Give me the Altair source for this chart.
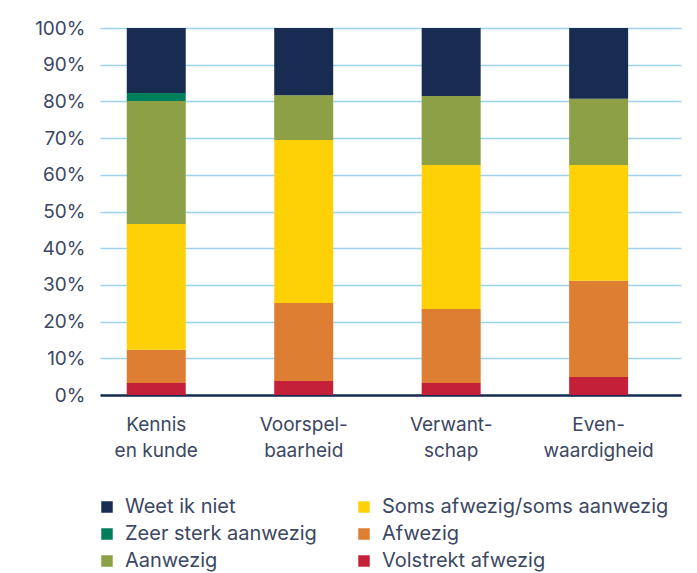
import altair as alt
import pandas as pd

categories = ["Kennis|en kunde", "Voorspel-|baarheid", "Verwant-|schap", "Even-|waardigheid"]
series = ["Volstrekt afwezig", "Afwezig", "Soms afwezig/soms aanwezig", "Aanwezig",
          "Zeer sterk aanwezig", "Weet ik niet"]
colors = ["#c5203a", "#de7e33", "#fdd105", "#8da046", "#00805a", "#182c51"]

volstrekt = [3.3, 3.8, 3.3, 4.9]
afwezig = [9.0, 21.3, 20.1, 26.2]
soms = [34.3, 44.4, 39.3, 31.6]
aanwezig = [33.5, 12.2, 18.8, 18.0]
zeer_sterk = [2.2, 0.0, 0.0, 0.0]
weet_niet = [17.7, 18.3, 18.5, 19.3]

values = [volstrekt, afwezig, soms, aanwezig, zeer_sterk, weet_niet]
rows = []
for si, (s, vals) in enumerate(zip(series, values)):
    for c, v in zip(categories, vals):
        rows.append({"cat": c, "serie": s, "value": v / 100.0, "order": si})
df = pd.DataFrame(rows)

legend_order = ["Weet ik niet", "Zeer sterk aanwezig", "Aanwezig",
                "Soms afwezig/soms aanwezig", "Afwezig", "Volstrekt afwezig"]
color_map = dict(zip(series, colors))

text_color = "#3b4763"
font = "Inter"
fs = 19

chart = alt.Chart(df).mark_bar().encode(
    x=alt.X("cat:N", sort=categories,
            scale=alt.Scale(paddingInner=0.6, paddingOuter=0.27, align=0.336),
            axis=alt.Axis(title=None, labelAngle=0, labelExpr="split(datum.label, '|')",
                          labelFontSize=fs, labelColor=text_color, labelFont=font,
                          labelLineHeight=26, labelPadding=20, ticks=False,
                          domainColor="#182c51", domainWidth=2.5, grid=False)),
    y=alt.Y("value:Q", stack="zero", scale=alt.Scale(domain=[0, 1], nice=False),
            axis=alt.Axis(title=None, format=".0%", values=[i / 10 for i in range(11)],
                          labelFontSize=fs, labelColor=text_color, labelFont=font,
                          labelPadding=15, ticks=False, domain=False,
                          gridColor="#9dd3ec", gridWidth=1.5)),
    color=alt.Color("serie:N",
                    scale=alt.Scale(domain=legend_order,
                                    range=[color_map[s] for s in legend_order]),
                    legend=alt.Legend(title=None, orient="none", legendX=-3, legendY=469,
                                      columns=2, columnPadding=37, rowPadding=7,
                                      symbolType="square", symbolSize=132,
                                      symbolStrokeWidth=0, symbolOpacity=1,
                                      labelFontSize=20, labelColor=text_color,
                                      labelFont=font, labelOffset=8, labelLimit=400)),
    order=alt.Order("order:Q", sort="ascending"),
).properties(
    width=581, height=367,
    padding={"left": 92, "top": 20, "right": 8, "bottom": 178},
    autosize=alt.AutoSizeParams(type="none"),
).configure_view(stroke=None).configure_axis(gridOpacity=1)

chart.save("out.html", embed_options={"renderer": "svg", "actions": False})
